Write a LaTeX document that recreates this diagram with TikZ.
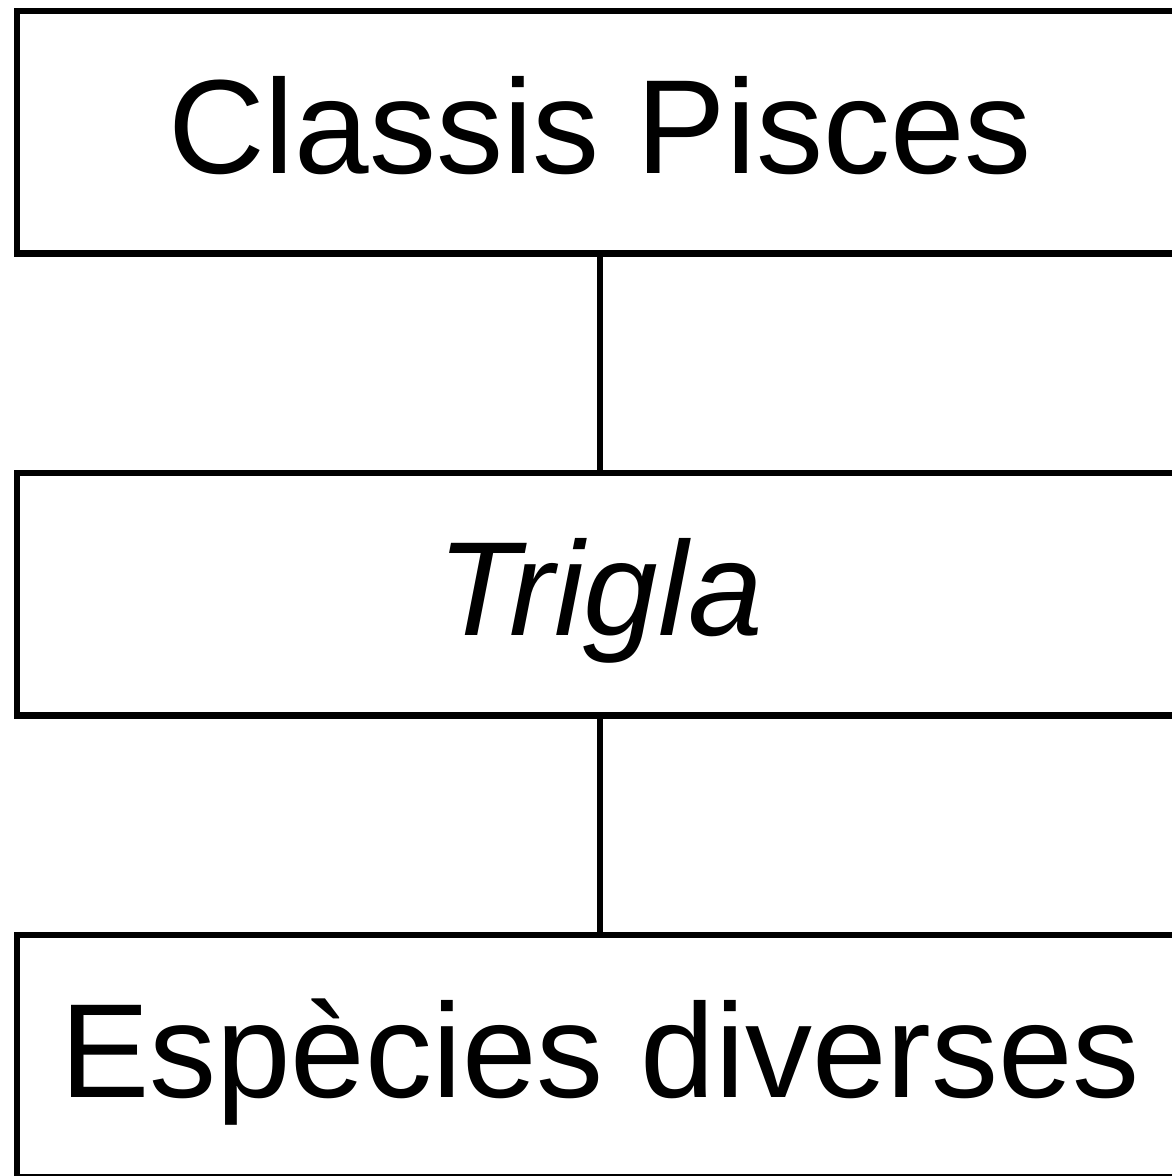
\documentclass[tikz,border=0pt]{standalone}
\usepackage{fontspec}
\setmainfont{Liberation Sans}
\begin{document}
\begin{tikzpicture}[x=1pt,y=-1pt,
  box/.style={draw, line width=6.5pt, minimum width=1166pt, minimum height=242.5pt,
    inner sep=0pt, text height=96pt, text depth=13pt,
    font=\fontsize{134}{160}\selectfont},
  link/.style={line width=6.5pt}]
\useasboundingbox (0,0) rectangle (1172,1176);
\clip (0,0) rectangle (1172,1176);
\node[box] (a) at (600,132.25) {Classis Pisces};
\node[box] (b) at (600,594) {\itshape Trigla};
\node[box] (c) at (600,1056.25) {Espècies diverses};
\draw[link] (a) -- (b);
\draw[link] (b) -- (c);
\end{tikzpicture}
\end{document}
